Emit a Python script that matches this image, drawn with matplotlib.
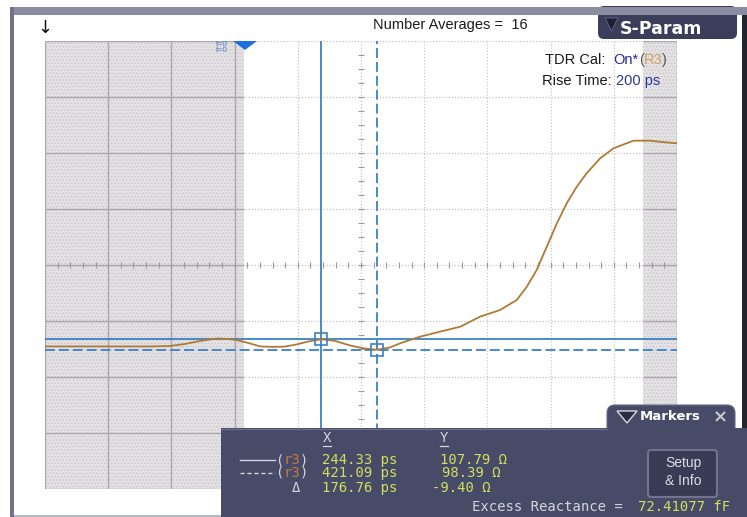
import matplotlib
matplotlib.use("Agg")
import matplotlib.pyplot as plt
from matplotlib.patches import Rectangle, FancyBboxPatch, Polygon
from matplotlib.lines import Line2D
from matplotlib.transforms import Affine2D

# TDR trace (impedance vs time)
time_ps = [-630, -456, -297, -234, -187, -139, -108, -82, -57, -25, 13, 51, 89, 127,
           165, 203, 244.33, 288, 335, 380, 421.09, 462, 494, 557, 620, 684, 747, 810,
           863, 895, 926, 958, 990, 1021, 1053, 1084, 1127, 1169, 1232, 1285, 1323, 1370]
z_ohm = [101.4, 101.4, 101.4, 101.8, 103.6, 106.3, 107.6, 108.5, 108.1, 107.2, 104.5,
         101.4, 101.0, 101.2, 103.1, 105.8, 107.79, 106.3, 102.3, 99.6, 98.39, 100.5,
         104.2, 110.1, 114.6, 119.0, 128.0, 133.9, 142.9, 154.8, 169.7, 190.5, 211.4,
         229.2, 244.1, 256.0, 269.4, 278.3, 285.1, 285.1, 283.9, 282.8]

cursor_x = [244.33, 421.09]
cursor_y = [107.79, 98.39]
n_averages = 16
rise_time_ps = 200
excess_reactance_ff = 72.41077

x_div, y_div = 200, 50
x_left, y_bottom = -630, -25.9
shade_left = (-630, 0)
shade_right = (1263, 1370)

W, H = 747, 517
plt.rcParams['font.family'] = ['Liberation Sans', 'DejaVu Sans']
plt.rcParams['hatch.linewidth'] = 0.6

fig = plt.figure(figsize=(W / 100, H / 100), dpi=100, facecolor='white')
# pixel coordinates, origin top-left
px = Affine2D().scale(1 / W, -1 / H).translate(0, 1) + fig.transFigure


def rect(x0, y0, x1, y1, color, z=1, **kw):
    fig.add_artist(Rectangle((x0, y0), x1 - x0, y1 - y0, transform=px,
                             facecolor=color, edgecolor='none', zorder=z, **kw))


def rbox(x0, y0, x1, y1, color, r, z=1, **kw):
    fig.add_artist(FancyBboxPatch((x0, y0), x1 - x0, y1 - y0,
                                  boxstyle=f"round,pad=0,rounding_size={r}",
                                  transform=px, facecolor=color, zorder=z, **kw))


def txt(x, y, s, **kw):
    kw.setdefault('va', 'center')
    return fig.text(x, y, s, transform=px, **kw)


def chain(x, y, parts, **kw):
    r = fig.canvas.get_renderer()
    for s, c in parts:
        t = txt(x, y, s, color=c, **kw)
        x += t.get_window_extent(r).width


# ---- plot area ----
ax = fig.add_axes([45 / W, 1 - 489 / H, 632 / W, 448 / H])
ax.set_xlim(x_left, x_left + 10 * x_div)
ax.set_ylim(y_bottom, y_bottom + 8 * y_div)
ax.axis('off')

for lo, hi in (shade_left, shade_right):
    ax.axvspan(lo, hi, facecolor='#e3e1e3', edgecolor='#c9c7c9', hatch='.....',
               lw=0, zorder=0)

for k in range(11):
    xv = x_left + k * x_div
    ax.axvline(xv, color='#c6c6c6', lw=0.9, ls=(0, (1, 1.5)), zorder=1)
    if xv <= shade_left[1]:
        ax.axvline(xv, color='#aaa8aa', lw=1.0, zorder=1)
for k in range(9):
    yv = y_bottom + k * y_div
    ax.axhline(yv, color='#c6c6c6', lw=0.9, ls=(0, (1, 1.5)), zorder=1)
    for lo, hi in (shade_left, shade_right):
        ax.hlines(yv, lo, hi, color='#aaa8aa', lw=1.0, zorder=1)
ax.axvline(x_left + 10 * x_div, color='#aaa8aa', lw=1.0, zorder=1)

# centre graticule ticks
xc = x_left + 5 * x_div
yc = y_bottom + 4 * y_div
ax.vlines([x_left + i * x_div / 5 for i in range(1, 50)], yc - 3, yc + 3,
          color='#9a9a9a', lw=0.8, zorder=1)
ax.hlines([y_bottom + i * y_div / 4 for i in range(1, 32)], xc - 8, xc + 8,
          color='#9a9a9a', lw=0.8, zorder=1)

cur = '#3a80c8'
ax.axvline(cursor_x[0], color=cur, lw=1.3, zorder=4)
ax.axvline(cursor_x[1], color=cur, lw=1.3, dashes=(5.5, 2.2), zorder=4)
ax.axhline(cursor_y[0], color=cur, lw=1.3, zorder=4)
ax.axhline(cursor_y[1], color=cur, lw=1.3, dashes=(5.5, 2.2), zorder=4)

ax.plot(time_ps, z_ohm, color='#b07a35', lw=1.3, zorder=5)
ax.plot(cursor_x, cursor_y, ls='none', marker='s', ms=8, mfc='none', mec=cur,
        mew=1.2, zorder=6)

# ---- frame ----
rbox(598, 6, 737, 39, '#3b3e5a', 6, z=2, edgecolor='none')
rect(10, 7, 747, 15, '#8a8ca2', z=3)
rect(10, 7, 14, 517, '#72728c', z=3)
rect(742, 15, 747, 430, '#24242e', z=3)
rect(14, 515, 221, 517, '#b8b8c4', z=3)

fig.add_artist(Polygon([(605, 18), (618, 18), (611.5, 31)], closed=True, transform=px,
                       facecolor='#1c1e36', edgecolor='#5a5c78', lw=0.8, zorder=4))
txt(620, 29, 'S-Param', color='white', fontsize=12.5, fontweight='bold',
    family='DejaVu Sans', zorder=4)

txt(45, 28, '\u2193', color='#111111', fontsize=13, ha='center', family='DejaVu Sans')
fig.add_artist(Polygon([(233, 41), (257, 41), (245, 50)], closed=True, transform=px,
                       facecolor='#1f6fe0', edgecolor='none', zorder=4))
txt(222, 47.5, 't=0\nt=0', color='#4a78c8', fontsize=6, ha='center',
    linespacing=0.9, zorder=4)

txt(373, 25, f'Number Averages =  {n_averages}', color='#1a1a1a', fontsize=10.5)
chain(545, 60, [('TDR Cal:  ', '#1a1a1a'), ('On*', '#2a2a90'), ('(', '#555555'),
                ('R3', '#d0a060'), (')', '#555555')], fontsize=10.5, zorder=4)
chain(542, 81, [('Rise Time: ', '#1a1a1a'), (f'{rise_time_ps} ps', '#2838a0')],
      fontsize=10.5, zorder=4)

# ---- markers panel ----
panel = '#484b68'
rbox(607, 405, 735, 436, panel, 8, z=7, edgecolor='#6a6c88', lw=0.8)
rect(221, 428, 747, 517, panel, z=7)
fig.add_artist(Line2D([221, 607], [428.5, 428.5], transform=px, color='#6a6c88',
                      lw=1, zorder=8))
fig.add_artist(Polygon([(617, 411), (637, 411), (627, 423)], closed=True, transform=px,
                       facecolor='#2a2c42', edgecolor='#d8d8e0', lw=1, zorder=8))
txt(640, 416, 'Markers', color='white', fontsize=9.5, fontweight='bold',
    family='DejaVu Sans', zorder=8)
txt(713, 417, '\u00d7', color='#c8c8d0', fontsize=13, fontweight='bold',
    family='DejaVu Sans', zorder=8)

lab = '#d4d4dc'
val = '#d2de5c'
org = '#c8783a'
mono = dict(family='DejaVu Sans Mono', fontsize=10, zorder=8)
txt(323, 438, 'X', color=lab, **mono)
txt(440, 438, 'Y', color=lab, **mono)
for x0 in (323, 440):
    fig.add_artist(Line2D([x0, x0 + 8], [446, 446], transform=px, color=lab, lw=0.9,
                          zorder=8))

fig.add_artist(Line2D([240, 275], [460, 460], transform=px, color=lab, lw=1, zorder=8))
fig.add_artist(Line2D([240, 275], [473, 473], transform=px, color=lab, lw=1,
                      dashes=(3, 2), zorder=8))
for y in (460, 473):
    chain(275, y, [('(', lab), ('r3', org), (')', lab)], **mono)
txt(296, 488, '\u0394', color=lab, ha='center', **mono)

dx = cursor_x[1] - cursor_x[0]
dy = cursor_y[1] - cursor_y[0]
txt(322, 460, f'{cursor_x[0]:.2f} ps', color=val, **mono)
txt(322, 473, f'{cursor_x[1]:.2f} ps', color=val, **mono)
txt(322, 488, f'{dx:.2f} ps', color=val, **mono)
txt(440, 460, f'{cursor_y[0]:.2f} \u03a9', color=val, **mono)
txt(442, 473, f'{cursor_y[1]:.2f} \u03a9', color=val, **mono)
txt(432, 488, f'{dy:.2f} \u03a9', color=val, **mono)
txt(472, 507, 'Excess Reactance =', color=lab, **mono)
txt(638, 507, f'{excess_reactance_ff:.5f} fF', color=val, **mono)

rbox(648, 450, 717, 497, '#3a3c55', 3, z=8, edgecolor='#72748f', lw=1.5)
txt(683, 463, 'Setup', color='#dcdce4', fontsize=10, ha='center', zorder=9)
txt(683, 481, '& Info', color='#dcdce4', fontsize=10, ha='center', zorder=9)

fig.savefig('out.png', dpi=100, facecolor='white')
